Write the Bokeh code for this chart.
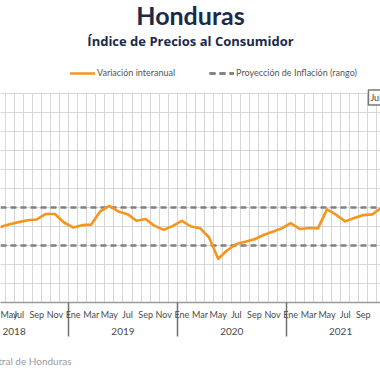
from bokeh.plotting import figure
from bokeh.models import (Range1d, FixedTicker, LinearAxis, Legend, LegendItem,
                          Title, Label, ColumnDataSource, BoxAnnotation)
from bokeh.embed import file_html
from bokeh.resources import INLINE

# ---------------- data ----------------
periodos = [
    "2018-05", "2018-06", "2018-07", "2018-08", "2018-09", "2018-10", "2018-11", "2018-12",
    "2019-01", "2019-02", "2019-03", "2019-04", "2019-05", "2019-06", "2019-07", "2019-08",
    "2019-09", "2019-10", "2019-11", "2019-12",
    "2020-01", "2020-02", "2020-03", "2020-04", "2020-05", "2020-06", "2020-07", "2020-08",
    "2020-09", "2020-10", "2020-11", "2020-12",
    "2021-01", "2021-02", "2021-03", "2021-04", "2021-05", "2021-06", "2021-07", "2021-08",
    "2021-09", "2021-10", "2021-11",
]
inflacion = [
    3.98, 4.12, 4.23, 4.33, 4.37, 4.66, 4.66, 4.21,
    3.95, 4.07, 4.10, 4.80, 5.09, 4.79, 4.65, 4.30, 4.39, 4.03, 3.82, 4.03,
    4.30, 4.00, 3.91, 3.42, 2.30, 2.75, 3.08, 3.20, 3.33, 3.55, 3.72, 3.90,
    4.18, 3.87, 3.92, 3.90, 4.90, 4.62, 4.27, 4.45, 4.60, 4.64, 5.00,
]
rango_inferior = 3.0
rango_superior = 5.0
meses_etiqueta = ["Ene", "Feb", "Mar", "Abr", "May", "Jun",
                  "Jul", "Ago", "Sep", "Oct", "Nov", "Dic"]
anios = [2018, 2019, 2020, 2021]
anio_base = 2019
y_max = 11

def idx(per):
    y, m = per.split("-")
    return (int(y) - anio_base) * 12 + int(m) - 1

x = [idx(p_) for p_ in periodos]
src = ColumnDataSource(dict(x=x, y=inflacion))

NAVY = "#1b2a49"
ORANGE = "#F7941D"
DASH = "#808080"
FONT = "Lato"

p = figure(frame_width=380, frame_height=250, output_backend="svg", toolbar_location=None,
           x_range=Range1d(-8.0, 33.9), y_range=Range1d(0, 250 / 19),
           min_border_left=0, min_border_right=0, min_border_top=0,
           min_border_bottom=0, outline_line_color=None)
p.xaxis.visible = False
p.yaxis.visible = False

# grid
p.xgrid.ticker = FixedTicker(ticks=[i + 0.5 for i in range(min(x) - 2, max(x) + 2)])
p.ygrid.ticker = FixedTicker(ticks=list(range(0, y_max + 1)))
p.xgrid.grid_line_color = "#d6d6d6"
p.ygrid.grid_line_color = "#d6d6d6"
# blank strip above the plotting area (legend zone)
p.add_layout(BoxAnnotation(bottom=y_max + 0.03, fill_color="white", fill_alpha=1,
                           line_alpha=0, level="underlay"))

# projection range
r_sup = p.line([min(x), max(x)], [rango_superior, rango_superior], line_color=DASH,
               line_width=2.5, line_dash="6 4")
r_inf = p.line([min(x), max(x)], [rango_inferior, rango_inferior], line_color=DASH,
               line_width=2.5, line_dash="6 4")
r_inf_line = p.line("x", "y", source=src, line_color=ORANGE, line_width=2.6,
                    line_join="round", line_cap="round")

# month axis (year separators drawn as long minor ticks)
mes_ticks = [i for i in range(min(x), max(x) + 2) if i % 2 == 0]
sep_ticks = [(a - anio_base) * 12 - 0.5 for a in anios + [anios[-1] + 1]]
ax_m = LinearAxis(ticker=FixedTicker(ticks=mes_ticks, minor_ticks=sep_ticks))
ax_m.major_label_overrides = {t: meses_etiqueta[t % 12] for t in mes_ticks}
ax_m.major_tick_out = 0
ax_m.major_tick_in = 0
ax_m.minor_tick_in = 0
ax_m.minor_tick_out = 34
ax_m.minor_tick_line_color = "#707070"
ax_m.minor_tick_line_width = 1.5
ax_m.axis_line_color = "#9a9a9a"
ax_m.axis_line_width = 1.5
ax_m.major_label_text_font = FONT
ax_m.major_label_text_font_size = "9px"
ax_m.major_label_text_color = "#4a4a4a"
ax_m.major_label_standoff = -28
p.add_layout(ax_m, "below")

anio_ticks = [(a - anio_base) * 12 + 5.5 for a in anios]
ax_y = LinearAxis(ticker=FixedTicker(ticks=anio_ticks, minor_ticks=[]))
ax_y.major_label_overrides = {t: str(a) for t, a in zip(anio_ticks, anios)}
ax_y.major_tick_out = 0
ax_y.major_tick_in = 0
ax_y.axis_line_alpha = 0
ax_y.major_label_text_font = FONT
ax_y.major_label_text_font_size = "10px"
ax_y.major_label_text_color = "#4a4a4a"
ax_y.major_label_standoff = 5
p.add_layout(ax_y, "below")

# invisible spacing axis between the year row and the source line
gap = LinearAxis(ticker=FixedTicker(ticks=[0], minor_ticks=[]))
gap.major_label_overrides = {0: ""}
gap.axis_line_alpha = 0
gap.major_tick_in = 0
gap.major_tick_out = 12
gap.major_tick_line_alpha = 0
gap.minor_tick_out = 0
gap.major_label_standoff = 0
p.add_layout(gap, "below")

p.add_layout(Title(text="Fuente: Banco Central de Honduras", align="left", offset=-85,
                   text_font=FONT, text_font_size="10px", text_font_style="normal",
                   text_color="#9a9a9a", standoff=6), "below")

legend = Legend(items=[LegendItem(label="Variación interanual", renderers=[r_inf_line]),
                       LegendItem(label="Proyección de Inflación (rango)", renderers=[r_sup, r_inf])],
                orientation="horizontal", location=(70, 224), border_line_color=None,
                background_fill_alpha=0, padding=0, margin=0, spacing=34,
                glyph_width=25, glyph_height=10, label_standoff=2,
                label_text_font=FONT, label_text_font_size="9px",
                label_text_color="#555555", label_height=10)
p.add_layout(legend, "center")

p.add_layout(Title(text="Índice de Precios al Consumidor", align="center",
                   text_font="Open Sans", text_font_size="13px", text_font_style="bold",
                   text_color=NAVY, standoff=6), "above")
p.add_layout(Title(text="Honduras", align="center",
                   text_font=FONT, text_font_size="25px", text_font_style="bold",
                   text_color=NAVY, standoff=-6), "above")

p.add_layout(Label(x=32.57, y=10.4, text="Jul-21", text_font=FONT, text_font_size="9px",
                   text_color="#444444", border_line_color="#777777", border_line_width=1.5,
                   background_fill_color="white", padding=2))

open("out.html", "w").write(file_html(p, INLINE))
